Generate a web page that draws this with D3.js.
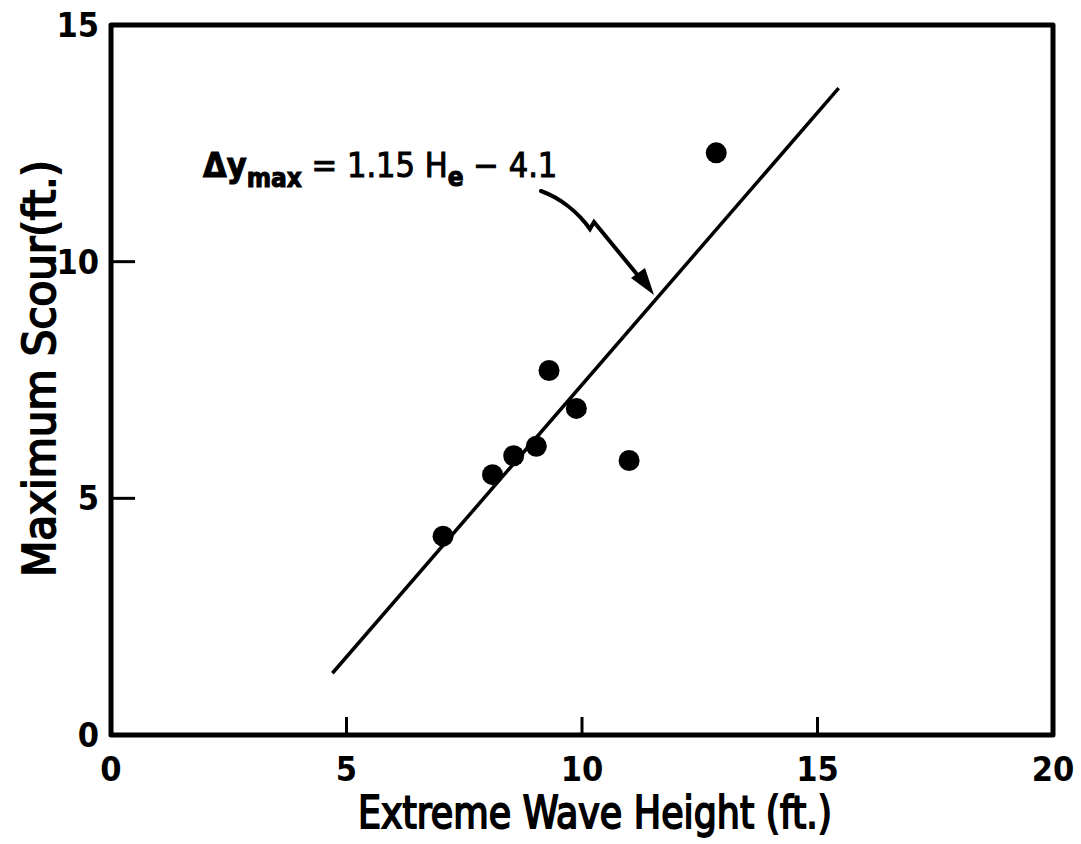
<!DOCTYPE html>
<html>
<head>
<meta charset="utf-8">
<script src="https://cdn.jsdelivr.net/npm/d3@7"></script>
<style>
  body { margin: 0; background: #fff; }
  svg { display: block; }
  text { font-family: "DejaVu Sans Condensed", "Liberation Sans Narrow", sans-serif; fill: #000; }
</style>
</head>
<body>
<div id="chart"></div>
<script>
var waveHeight = [7.05, 8.1, 8.55, 9.03, 9.3, 9.88, 11.0, 12.85];
var maxScour   = [4.2, 5.5, 5.9, 6.1, 7.7, 6.9, 5.8, 12.3];
var xTicks = [0, 5, 10, 15, 20];
var yTicks = [0, 5, 10, 15];
var fitRange = [4.7, 15.45];
var fitSlope = 1.15, fitIntercept = -4.1;

var W = 1081, H = 844;
var svg = d3.select('#chart').append('svg')
  .attr('width', W)
  .attr('height', H);

var x = d3.scaleLinear().domain([0, 20]).range([111, 1053]);
var y = d3.scaleLinear().domain([0, 15]).range([735, 25]);

// frame
svg.append('path')
  .attr('d', 'M' + x(0) + ',' + y(0) + 'V' + y(15) + 'H' + x(20) + 'V' + y(0) + 'Z')
  .attr('fill', 'none')
  .attr('stroke', '#000')
  .attr('stroke-width', 5)
  .attr('stroke-linejoin', 'round');

// inward ticks
svg.selectAll('line.xt')
  .data([5, 10, 15])
  .enter().append('line')
  .attr('x1', function (d) { return x(d); })
  .attr('x2', function (d) { return x(d); })
  .attr('y1', y(0))
  .attr('y2', y(0) - 18)
  .attr('stroke', '#000')
  .attr('stroke-width', 3);

svg.selectAll('line.yt')
  .data([5, 10])
  .enter().append('line')
  .attr('x1', x(0))
  .attr('x2', x(0) + 24)
  .attr('y1', function (d) { return y(d); })
  .attr('y2', function (d) { return y(d); })
  .attr('stroke', '#000')
  .attr('stroke-width', 3);

// tick labels
svg.selectAll('text.xl')
  .data(xTicks)
  .enter().append('text')
  .text(function (d) { return d; })
  .attr('x', function (d) { return x(d); })
  .attr('y', 781)
  .attr('text-anchor', 'middle')
  .attr('font-size', '34px')
  .attr('font-weight', 'bold');

svg.selectAll('text.yl')
  .data(yTicks)
  .enter().append('text')
  .text(function (d) { return d; })
  .attr('x', 99)
  .attr('y', function (d) { return y(d) + 12; })
  .attr('text-anchor', 'end')
  .attr('font-size', '34px')
  .attr('font-weight', 'bold');

// axis titles
svg.append('text')
  .text('Extreme Wave Height (ft.)')
  .attr('x', 358)
  .attr('y', 828)
  .attr('font-size', '44px')
  .attr('stroke', '#000')
  .attr('stroke-width', 1.8)
  .attr('textLength', 474)
  .attr('lengthAdjust', 'spacingAndGlyphs');

svg.append('text')
  .text('Maximum Scour(ft.)')
  .attr('transform', 'translate(55,577) rotate(-90)')
  .attr('font-size', '44px')
  .attr('stroke', '#000')
  .attr('stroke-width', 1.8)
  .attr('textLength', 417)
  .attr('lengthAdjust', 'spacingAndGlyphs');

// fitted line
svg.append('line')
  .attr('x1', x(fitRange[0]))
  .attr('y1', y(fitSlope * fitRange[0] + fitIntercept))
  .attr('x2', x(fitRange[1]))
  .attr('y2', y(fitSlope * fitRange[1] + fitIntercept))
  .attr('stroke', '#000')
  .attr('stroke-width', 3.5);

// points
svg.selectAll('circle')
  .data(waveHeight)
  .enter().append('circle')
  .attr('cx', function (d) { return x(d); })
  .attr('cy', function (d, i) { return y(maxScour[i]); })
  .attr('r', 10.5)
  .attr('fill', '#000');

// equation label
var eq = svg.append('text')
  .attr('x', 203)
  .attr('y', 177)
  .attr('font-size', '34px')
  .attr('stroke', '#000')
  .attr('stroke-width', 1);
eq.append('tspan').text('Δy').attr('font-weight', 'bold');
eq.append('tspan').text('max').attr('font-size', '26px').attr('font-weight', 'bold').attr('dy', 10);
eq.append('tspan').text(' =  1.15 H').attr('dy', -10);
eq.append('tspan').text('e').attr('font-size', '26px').attr('font-weight', 'bold').attr('dy', 9);
eq.append('tspan').text('  − 4.1').attr('dy', -9);

// pointer arrow
svg.append('path')
  .attr('d', 'M541,191 C560,198 578,212 590,229 L594,222 L640,278')
  .attr('fill', 'none')
  .attr('stroke', '#000')
  .attr('stroke-width', 4)
  .attr('stroke-linecap', 'round');

svg.append('path')
  .attr('d', 'M654,295 L631,278 L645,268 Z')
  .attr('fill', '#000');
</script>
</body>
</html>
